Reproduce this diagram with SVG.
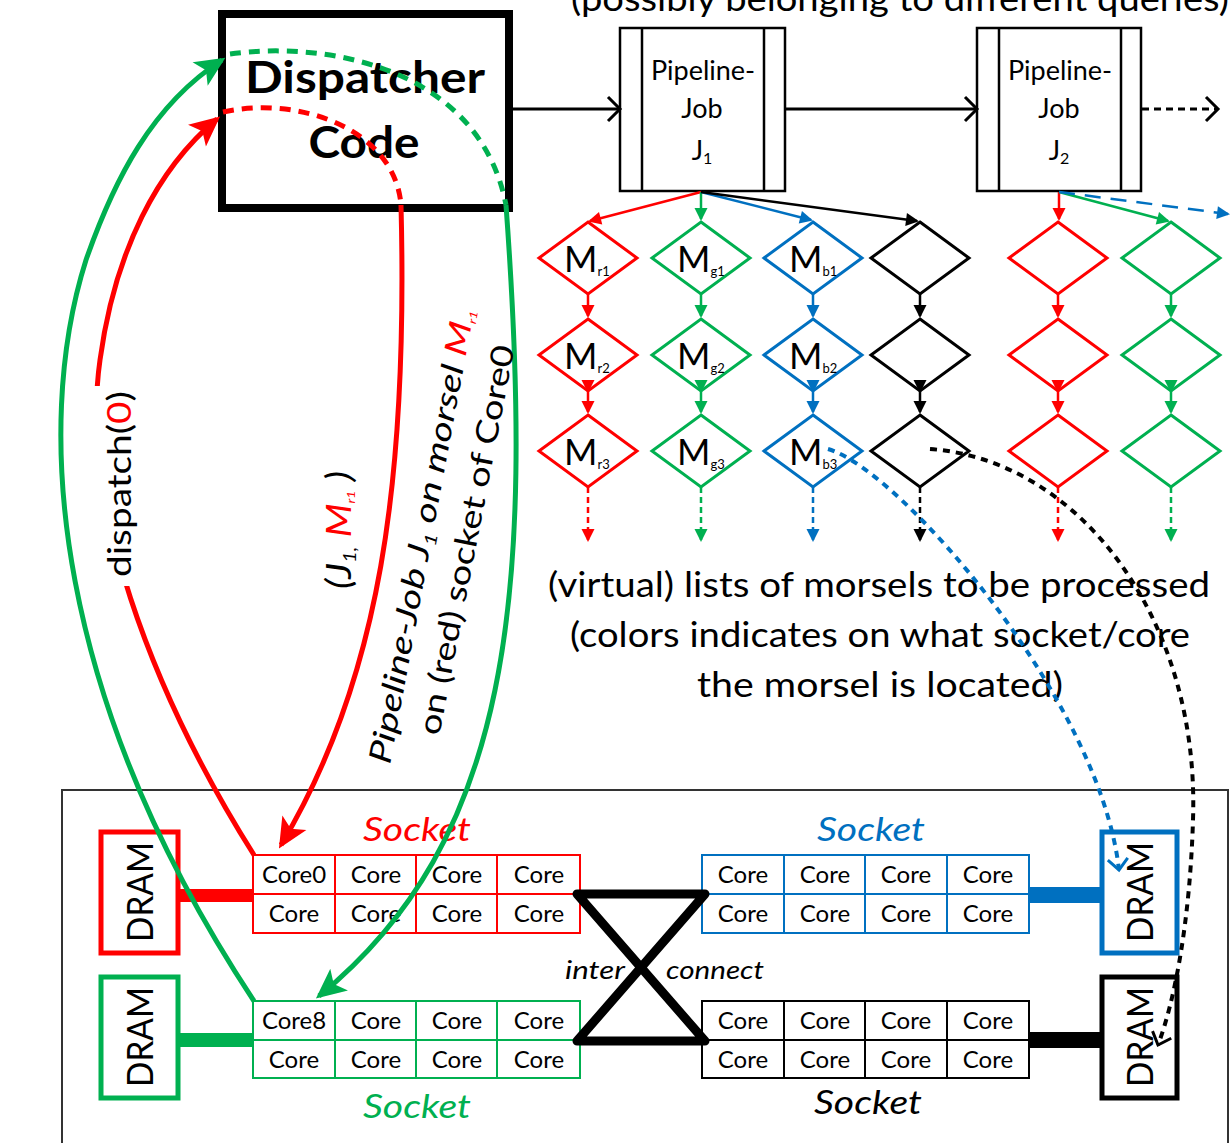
<svg xmlns="http://www.w3.org/2000/svg" width="1232" height="1143" viewBox="0 0 1232 1143">
<style>
text{font-family:Lato,'Open Sans','Liberation Sans',sans-serif;fill:#000}
.cap{font-size:34px;text-anchor:middle}
.job{font-size:27px;text-anchor:middle}
.m{font-size:36px}
.core{font-size:24px;text-anchor:middle}
.dram{font-size:36px;text-anchor:middle}
.sock{font-size:33px;font-style:italic;text-anchor:middle}
.jobbox{fill:#fff;stroke:#000;stroke-width:2.5}
.dia{fill:none;stroke-width:3}
.grid{fill:none;stroke-width:2}
.dram-box{fill:#fff;stroke-width:5}
.lnk{fill:none;stroke-width:2.5}
.r{stroke:#FF0000}.g{stroke:#00B050}.b{stroke:#0070C0}.k{stroke:#000}
</style>
<defs>
  <marker id="aR" markerUnits="userSpaceOnUse" orient="auto" overflow="visible"><path d="M2,0 L-11,-6.5 L-11,6.5 Z" fill="#FF0000"/></marker>
  <marker id="aG" markerUnits="userSpaceOnUse" orient="auto" overflow="visible"><path d="M2,0 L-11,-6.5 L-11,6.5 Z" fill="#00B050"/></marker>
  <marker id="aB" markerUnits="userSpaceOnUse" orient="auto" overflow="visible"><path d="M2,0 L-11,-6.5 L-11,6.5 Z" fill="#0070C0"/></marker>
  <marker id="aK" markerUnits="userSpaceOnUse" orient="auto" overflow="visible"><path d="M2,0 L-11,-6.5 L-11,6.5 Z" fill="#000"/></marker>
  <marker id="bigR" markerUnits="userSpaceOnUse" orient="auto" overflow="visible"><path d="M4,0 L-26,-14 L-19,0 L-26,14 Z" fill="#FF0000"/></marker>
  <marker id="bigG" markerUnits="userSpaceOnUse" orient="auto" overflow="visible"><path d="M4,0 L-26,-14 L-19,0 L-26,14 Z" fill="#00B050"/></marker>
  <marker id="chK" markerUnits="userSpaceOnUse" orient="auto" overflow="visible"><path d="M-12,-12 L0,0 L-12,12" fill="none" stroke="#000" stroke-width="3"/></marker>
  <marker id="chB" markerUnits="userSpaceOnUse" orient="auto" overflow="visible"><path d="M-11,-10 L0,0 L-11,10" fill="none" stroke="#0070C0" stroke-width="3"/></marker>
  <marker id="chK2" markerUnits="userSpaceOnUse" orient="auto" overflow="visible"><path d="M-11,-10 L0,0 L-11,10" fill="none" stroke="#000" stroke-width="3"/></marker>
  <mask id="gapDispatch" maskUnits="userSpaceOnUse" x="0" y="0" width="1232" height="1143">
    <rect width="1232" height="1143" fill="#fff"/>
    <rect x="85" y="386" width="60" height="200" fill="#000"/>
  </mask>
</defs>

<rect width="1232" height="1143" fill="#fff"/>

<!-- captions -->
<text class="cap" x="900" y="11" textLength="658" lengthAdjust="spacingAndGlyphs">(possibly belonging to different queries)</text>
<g id="caption">
  <text class="cap" x="879" y="597" textLength="662" lengthAdjust="spacingAndGlyphs">(virtual) lists of morsels to be processed</text>
  <text class="cap" x="880" y="647" textLength="620" lengthAdjust="spacingAndGlyphs">(colors indicates on what socket/core</text>
  <text class="cap" x="880" y="697" textLength="366" lengthAdjust="spacingAndGlyphs">the morsel is located)</text>
</g>

<!-- dispatcher -->
<g id="dispatcher">
  <rect x="222" y="14" width="287" height="194" fill="#fff" stroke="#000" stroke-width="8"/>
  <text x="365" y="93" font-size="44" font-weight="bold" text-anchor="middle" textLength="240" lengthAdjust="spacingAndGlyphs">Dispatcher</text>
  <text x="364" y="158" font-size="44" font-weight="bold" text-anchor="middle" textLength="111" lengthAdjust="spacingAndGlyphs">Code</text>
</g>

<!-- pipeline jobs -->
<g id="job-j1">
  <rect class="jobbox" x="620" y="28" width="165" height="163"/>
  <line x1="642" y1="28" x2="642" y2="191" stroke="#000" stroke-width="2.5"/>
  <line x1="764" y1="28" x2="764" y2="191" stroke="#000" stroke-width="2.5"/>
  <text class="job" x="703" y="80">Pipeline-</text>
  <text class="job" x="702" y="118">Job</text>
  <text class="job" x="702" y="160">J<tspan font-size="16" dy="4">1</tspan></text>
</g>
<g id="job-j2">
  <rect class="jobbox" x="977" y="28" width="164" height="163"/>
  <line x1="999" y1="28" x2="999" y2="191" stroke="#000" stroke-width="2.5"/>
  <line x1="1121" y1="28" x2="1121" y2="191" stroke="#000" stroke-width="2.5"/>
  <text class="job" x="1060" y="80">Pipeline-</text>
  <text class="job" x="1059" y="118">Job</text>
  <text class="job" x="1059" y="160">J<tspan font-size="16" dy="4">2</tspan></text>
</g>

<!-- morsel lists -->
<g id="m-r1"><polygon class="dia r" points="588,222 637,258 588,294 539,258"/><text class="m" x="564" y="272">M<tspan font-size="13" dy="4">r1</tspan></text></g>
<g id="m-r2"><polygon class="dia r" points="588,319 637,355 588,391 539,355"/><text class="m" x="564" y="369">M<tspan font-size="13" dy="4">r2</tspan></text></g>
<g id="m-r3"><polygon class="dia r" points="588,415 637,451 588,487 539,451"/><text class="m" x="564" y="465">M<tspan font-size="13" dy="4">r3</tspan></text></g>
<g id="m-g1"><polygon class="dia g" points="701,222 750,258 701,294 652,258"/><text class="m" x="677" y="272">M<tspan font-size="13" dy="4">g1</tspan></text></g>
<g id="m-g2"><polygon class="dia g" points="701,319 750,355 701,391 652,355"/><text class="m" x="677" y="369">M<tspan font-size="13" dy="4">g2</tspan></text></g>
<g id="m-g3"><polygon class="dia g" points="701,415 750,451 701,487 652,451"/><text class="m" x="677" y="465">M<tspan font-size="13" dy="4">g3</tspan></text></g>
<g id="m-b1"><polygon class="dia b" points="813,222 862,258 813,294 764,258"/><text class="m" x="789" y="272">M<tspan font-size="13" dy="4">b1</tspan></text></g>
<g id="m-b2"><polygon class="dia b" points="813,319 862,355 813,391 764,355"/><text class="m" x="789" y="369">M<tspan font-size="13" dy="4">b2</tspan></text></g>
<g id="m-b3"><polygon class="dia b" points="813,415 862,451 813,487 764,451"/><text class="m" x="789" y="465">M<tspan font-size="13" dy="4">b3</tspan></text></g>
<g id="m-k1"><polygon class="dia k" points="920,222 969,258 920,294 871,258"/></g>
<g id="m-k2"><polygon class="dia k" points="920,319 969,355 920,391 871,355"/></g>
<g id="m-k3"><polygon class="dia k" points="920,415 969,451 920,487 871,451"/></g>
<g id="m2-r1"><polygon class="dia r" points="1058,222 1107,258 1058,294 1009,258"/></g>
<g id="m2-r2"><polygon class="dia r" points="1058,319 1107,355 1058,391 1009,355"/></g>
<g id="m2-r3"><polygon class="dia r" points="1058,415 1107,451 1058,487 1009,451"/></g>
<g id="m2-g1"><polygon class="dia g" points="1171,222 1220,258 1171,294 1122,258"/></g>
<g id="m2-g2"><polygon class="dia g" points="1171,319 1220,355 1171,391 1122,355"/></g>
<g id="m2-g3"><polygon class="dia g" points="1171,415 1220,451 1171,487 1122,451"/></g>

<!-- hardware -->
<rect id="machine" x="62" y="790" width="1166" height="420" fill="none" stroke="#333" stroke-width="2"/>

<g id="dram-red">
  <rect class="dram-box r" x="101" y="832" width="77" height="121"/>
  <text class="dram" transform="translate(153,892) rotate(-90)" textLength="100" lengthAdjust="spacingAndGlyphs">DRAM</text>
</g>
<g id="dram-green">
  <rect class="dram-box g" x="101" y="977" width="77" height="121"/>
  <text class="dram" transform="translate(153,1037) rotate(-90)" textLength="100" lengthAdjust="spacingAndGlyphs">DRAM</text>
</g>
<g id="dram-blue">
  <rect class="dram-box b" x="1102" y="832" width="75" height="121"/>
  <text class="dram" transform="translate(1153,892) rotate(-90)" textLength="100" lengthAdjust="spacingAndGlyphs">DRAM</text>
</g>
<g id="dram-black">
  <rect class="dram-box k" x="1102" y="977" width="75" height="121"/>
  <text class="dram" transform="translate(1153,1037) rotate(-90)" textLength="100" lengthAdjust="spacingAndGlyphs">DRAM</text>
</g>

<g id="socket-red">
  <rect x="176" y="889" width="78" height="13" fill="#FF0000"/>
  <rect class="grid r" x="253" y="855" width="327" height="78" fill="#fff"/>
  <path class="grid r" d="M335,855V933M416,855V933M497,855V933M253,894H580"/>
  <text class="core" x="294" y="883">Core0</text><text class="core" x="376" y="883">Core</text><text class="core" x="457" y="883">Core</text><text class="core" x="539" y="883">Core</text>
  <text class="core" x="294" y="922">Core</text><text class="core" x="376" y="922">Core</text><text class="core" x="457" y="922">Core</text><text class="core" x="539" y="922">Core</text>
  <text class="sock" x="417" y="841" style="fill:#FF0000" textLength="108" lengthAdjust="spacingAndGlyphs">Socket</text>
</g>
<g id="socket-green">
  <rect x="176" y="1033" width="78" height="14" fill="#00B050"/>
  <rect class="grid g" x="253" y="1001" width="327" height="77" fill="#fff"/>
  <path class="grid g" d="M335,1001V1078M416,1001V1078M497,1001V1078M253,1040H580"/>
  <text class="core" x="294" y="1029">Core8</text><text class="core" x="376" y="1029">Core</text><text class="core" x="457" y="1029">Core</text><text class="core" x="539" y="1029">Core</text>
  <text class="core" x="294" y="1068">Core</text><text class="core" x="376" y="1068">Core</text><text class="core" x="457" y="1068">Core</text><text class="core" x="539" y="1068">Core</text>
  <text class="sock" x="417" y="1118" style="fill:#00B050" textLength="108" lengthAdjust="spacingAndGlyphs">Socket</text>
</g>
<g id="socket-blue">
  <rect x="1028" y="887" width="76" height="16" fill="#0070C0"/>
  <rect class="grid b" x="702" y="855" width="327" height="78" fill="#fff"/>
  <path class="grid b" d="M784,855V933M865,855V933M947,855V933M702,894H1029"/>
  <text class="core" x="743" y="883">Core</text><text class="core" x="825" y="883">Core</text><text class="core" x="906" y="883">Core</text><text class="core" x="988" y="883">Core</text>
  <text class="core" x="743" y="922">Core</text><text class="core" x="825" y="922">Core</text><text class="core" x="906" y="922">Core</text><text class="core" x="988" y="922">Core</text>
  <text class="sock" x="871" y="841" style="fill:#0070C0" textLength="108" lengthAdjust="spacingAndGlyphs">Socket</text>
</g>
<g id="socket-black">
  <rect x="1028" y="1032" width="76" height="16" fill="#000"/>
  <rect class="grid k" x="702" y="1001" width="327" height="77" fill="#fff"/>
  <path class="grid k" d="M784,1001V1078M865,1001V1078M947,1001V1078M702,1040H1029"/>
  <text class="core" x="743" y="1029">Core</text><text class="core" x="825" y="1029">Core</text><text class="core" x="906" y="1029">Core</text><text class="core" x="988" y="1029">Core</text>
  <text class="core" x="743" y="1068">Core</text><text class="core" x="825" y="1068">Core</text><text class="core" x="906" y="1068">Core</text><text class="core" x="988" y="1068">Core</text>
  <text class="sock" x="868" y="1114" textLength="108" lengthAdjust="spacingAndGlyphs">Socket</text>
</g>

<g id="interconnect">
  <path d="M577,894 H705 L577,1041 H705 Z" fill="none" stroke="#000" stroke-width="9" stroke-linejoin="round"/>
  <text x="565" y="979" font-size="26" font-style="italic" textLength="60" lengthAdjust="spacingAndGlyphs">inter</text>
  <text x="666" y="979" font-size="26" font-style="italic" textLength="98" lengthAdjust="spacingAndGlyphs">connect</text>
</g>

<!-- connectors -->
<g id="connectors">
  <!-- job chain -->
  <line x1="512" y1="109" x2="620" y2="109" stroke="#000" stroke-width="3" marker-end="url(#chK)"/>
  <line x1="785" y1="109" x2="977" y2="109" stroke="#000" stroke-width="3" marker-end="url(#chK)"/>
  <line x1="1142" y1="109" x2="1218" y2="109" stroke="#000" stroke-width="3" stroke-dasharray="7 5" marker-end="url(#chK)"/>

  <!-- J1 fan-out -->
  <line class="lnk r" x1="701" y1="192" x2="590" y2="221" marker-end="url(#aR)"/>
  <line class="lnk g" x1="701" y1="192" x2="701" y2="219" marker-end="url(#aG)"/>
  <line class="lnk b" x1="701" y1="192" x2="811" y2="220" marker-end="url(#aB)"/>
  <line class="lnk k" x1="701" y1="192" x2="917" y2="221" marker-end="url(#aK)"/>
  <!-- J2 fan-out -->
  <line class="lnk r" x1="1059" y1="192" x2="1059" y2="219" marker-end="url(#aR)"/>
  <line class="lnk g" x1="1059" y1="192" x2="1168" y2="221" marker-end="url(#aG)"/>
  <line class="lnk b" x1="1059" y1="192" x2="1228" y2="214" stroke-dasharray="16 10" marker-end="url(#aB)"/>

  <!-- list links -->
  <path class="lnk r" d="M588,294V316M588,391V412" marker-end="url(#aR)" marker-mid="url(#aR)"/>
  <path class="lnk r" d="M588,487V540" stroke-dasharray="6 4" marker-end="url(#aR)"/>
  <path class="lnk g" d="M701,294V316M701,391V412" marker-end="url(#aG)" marker-mid="url(#aG)"/>
  <path class="lnk g" d="M701,487V540" stroke-dasharray="6 4" marker-end="url(#aG)"/>
  <path class="lnk b" d="M813,294V316M813,391V412" marker-end="url(#aB)" marker-mid="url(#aB)"/>
  <path class="lnk b" d="M813,487V540" stroke-dasharray="6 4" marker-end="url(#aB)"/>
  <path class="lnk k" d="M920,294V316M920,391V412" marker-end="url(#aK)" marker-mid="url(#aK)"/>
  <path class="lnk k" d="M920,487V540" stroke-dasharray="6 4" marker-end="url(#aK)"/>
  <path class="lnk r" d="M1058,294V316M1058,391V412" marker-end="url(#aR)" marker-mid="url(#aR)"/>
  <path class="lnk r" d="M1058,487V540" stroke-dasharray="6 4" marker-end="url(#aR)"/>
  <path class="lnk g" d="M1171,294V316M1171,391V412" marker-end="url(#aG)" marker-mid="url(#aG)"/>
  <path class="lnk g" d="M1171,487V540" stroke-dasharray="6 4" marker-end="url(#aG)"/>

  <!-- dispatch request from Core0 -->
  <path d="M254,855 C150,690 80,500 100,360 C115,250 158,168 217,119" fill="none" stroke="#FF0000" stroke-width="5" mask="url(#gapDispatch)" marker-end="url(#bigR)"/>
  <path d="M223,112 C300,95 395,130 401,205" fill="none" stroke="#FF0000" stroke-width="5" stroke-dasharray="11 8"/>
  <path d="M401,205 C408,480 380,680 281,845" fill="none" stroke="#FF0000" stroke-width="5" marker-end="url(#bigR)"/>

  <!-- dispatch request from Core8 -->
  <path d="M254,1001 C55,700 32,430 86,260 C114,180 152,105 222,60" fill="none" stroke="#00B050" stroke-width="5" marker-end="url(#bigG)"/>
  <path d="M230,54 C330,40 480,70 506,205" fill="none" stroke="#00B050" stroke-width="5" stroke-dasharray="11 8"/>
  <path d="M506,205 C535,600 510,840 319,996" fill="none" stroke="#00B050" stroke-width="5" marker-end="url(#bigG)"/>

  <!-- morsel locations -->
  <path d="M828,449 C900,470 1100,700 1119,870" fill="none" stroke="#0070C0" stroke-width="4" stroke-dasharray="7 6" marker-end="url(#chB)"/>
  <path d="M930,449 C1080,460 1200,620 1193,820 C1190,920 1175,1000 1158,1045" fill="none" stroke="#000" stroke-width="4" stroke-dasharray="7 6" marker-end="url(#chK2)"/>
</g>

<!-- connector labels -->
<g id="labels">
  <text transform="translate(131,484) rotate(-90)" font-size="32" text-anchor="middle" textLength="186" lengthAdjust="spacingAndGlyphs">dispatch(<tspan style="fill:#FF0000">0</tspan>)</text>
  <text transform="translate(351,530) rotate(-90)" font-size="34" font-style="italic" text-anchor="middle" textLength="118" lengthAdjust="spacingAndGlyphs">(J<tspan font-size="17" dy="5">1,</tspan><tspan dy="-5"> </tspan><tspan style="fill:#FF0000">M</tspan><tspan style="fill:#FF0000" font-size="12" dy="4">r1</tspan><tspan dy="-4"> )</tspan></text>
  <text transform="translate(432,538) rotate(-79.5)" font-size="31" font-style="italic" text-anchor="middle" textLength="462" lengthAdjust="spacingAndGlyphs">Pipeline-Job J<tspan font-size="17" dy="5">1</tspan><tspan dy="-5"> on morsel </tspan><tspan style="fill:#FF0000">M</tspan><tspan style="fill:#FF0000" font-size="11" dy="4">r1</tspan></text>
  <text transform="translate(477,542) rotate(-79)" font-size="31" text-anchor="middle" textLength="396" lengthAdjust="spacingAndGlyphs">on (red) socket of Core0</text>
</g>
</svg>
